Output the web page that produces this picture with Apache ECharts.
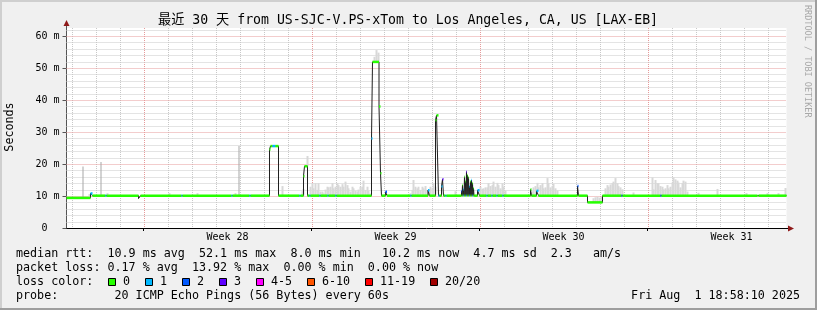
<!DOCTYPE html>
<html><head><meta charset="utf-8">
<script src="https://cdn.jsdelivr.net/npm/echarts@6/dist/echarts.min.js"></script>
<style>html,body{margin:0;padding:0;background:#f0f0f0}#c{width:817px;height:310px}</style>
</head><body><div id="c"></div>
<script>
// ---------- data ----------
const titleText = '最近 30 天 from US-SJC-V.PS-xTom to Los Angeles, CA, US [LAX-EB]';
const spanHours = 720;               // 30 days, x axis = hours since graph start
const firstMidnight = 5;             // hours from graph start to first local midnight
const weekLabels = ['Week 28', 'Week 29', 'Week 30', 'Week 31'];
const weekStartHours = [77, 245, 413, 581];
const weekLabelHours = [161, 329, 497, 665];
const yTicks = [0, 10, 20, 30, 40, 50, 60];

// median rtt (ms) step series: start hour, value, loss class (index into lossColors, -1 = none)
const medHour = [
  0, 24, 26, 39, 40, 72, 74, 115, 116, 165, 166, 183, 184,
  203, 204, 206, 209, 212, 233, 234, 237, 238, 241, 243, 244, 253, 254, 261, 262, 269, 270,
  305, 306, 312.5, 314, 315, 319, 320.5, 344, 345, 361.5, 363,
  369, 370, 372, 373, 375, 376, 377, 379, 380,
  395, 395.5, 396, 396.5, 397, 397.5, 398, 398.5, 399, 399.5, 400, 400.5, 401, 401.5,
  402, 402.5, 403, 403.5, 404, 404.5, 405, 405.5, 406, 406.5, 407, 407.5, 408,
  411, 413, 420, 421, 425, 426, 430, 431, 436, 437,
  464, 465, 470, 472, 511, 512, 521, 536, 555, 556, 594, 595, 691, 692];
const medMs = [
  9.4, 10.8, 10.1, 10.1, 10.1, 9.2, 10.1, 10.1, 10.1, 10.1, 10.1, 10.1, 10.1,
  24.5, 25.6, 25.6, 25.6, 10.1, 10.1, 10.1, 16.2, 19.3, 10.1, 10.1, 10.1, 10.1, 10.1, 10.1, 10.1, 10.1, 10.1,
  28.0, 51.9, 38.0, 17.1, 10.1, 11.3, 10.1, 10.1, 10.1, 11.8, 10.1,
  33.7, 35.2, 10.1, 10.1, 13.0, 15.2, 10.1, 10.1, 10.1,
  11.5, 10.1, 13.4, 10.1, 12.0, 10.1, 16.0, 10.1, 14.5, 10.1, 17.6, 10.1, 16.5, 10.1,
  15.8, 10.1, 13.0, 10.1, 14.5, 10.1, 15.0, 10.1, 14.0, 10.1, 12.4, 10.1, 10.1,
  11.8, 10.1, 10.1, 10.1, 10.1, 10.1, 10.1, 10.1, 10.1, 10.1,
  12.0, 10.1, 11.6, 10.1, 13.1, 10.1, 8.0, 10.1, 10.1, 10.1, 10.1, 10.1, 10.6, 10.1];
const medLoss = [
  0, 1, 0, 1, 0, -1, 0, 1, 0, 1, 0, 1, 0,
  0, 0, 1, 0, 0, 1, 0, 0, 0, 0, 1, 0, 1, 0, 1, 0, 1, 0,
  1, 0, 0, 0, 0, 2, 0, 1, 0, 1, 0,
  0, 0, 1, 0, 1, 3, 0, 1, 0,
  2, 0, 0, 1, 1, 0, 0, 0, 0, 1, 3, 0, 0, 0,
  0, 1, 1, 0, 0, 0, 1, 1, 0, 0, 0, 0, 0,
  1, 0, 1, 0, 1, 0, 1, 0, 1, 0,
  0, 0, 1, 0, 2, 0, 0, 0, 2, 0, 2, 0, -1, 0];

// smoke (max ping) tops, ms
const smokeHour = [22,40,102,130,168,215,235,236,240,
  243,245,246,248,250,251,253,255,256,258,260,261,263,265,266,268,270,271,273,275,276,278,280,281,283,285,286,288,290,291,293,295,296,298,300,301,303,
  307,309,311,
  343,345,346,348,350,351,353,355,356,358,360,361,363,365,366,368,388,
  411,413,415,416,418,420,421,423,425,426,428,430,431,433,435,436,438,
  465,466,468,470,471,473,475,476,478,480,481,483,485,486,488,490,
  526,528,530,532,534,538,540,541,543,545,546,548,550,551,553,555,566,
  585,586,588,590,591,593,595,596,598,600,601,603,605,606,608,610,611,613,615,616,618,620,
  631,650,679,700,711,718];
const smokeTop = [10.6,10.9,10.9,10.9,10.9,13.1,11.5,12.2,22.5,
  12.9,14.0,12.4,14.0,11.9,14.0,11.4,11.4,10.8,12.0,12.9,12.7,12.9,14.0,12.4,12.9,14.0,13.4,12.9,13.7,12.9,14.5,13.4,12.4,11.4,12.9,12.4,11.6,11.4,12.0,12.9,12.9,14.8,11.9,12.9,11.6,10.8,
  53.5,55.6,54.8,
  10.8,11.9,15.0,12.9,12.4,12.9,11.9,12.9,12.4,13.1,11.9,11.4,12.9,12.4,14.0,12.9,11.5,
  11.7,12.9,12.2,12.4,12.7,12.7,14.0,13.1,13.4,14.5,12.9,14.1,13.4,12.4,14.0,12.9,11.7,
  11.4,12.7,13.1,14.1,12.7,13.4,14.0,12.4,12.7,15.6,14.0,12.7,13.1,13.8,12.4,11.7,
  9.3,9.6,9.8,9.5,9.7,12.4,13.4,12.9,13.6,14.0,14.5,15.6,14.0,13.1,12.7,12.1,11.1,
  15.8,12.1,15.0,14.0,14.0,13.1,12.9,12.1,12.4,13.4,12.4,12.9,14.2,15.8,15.2,14.8,14.2,12.7,14.0,14.8,14.5,11.4,
  11.0,12.2,10.9,10.9,10.9,12.5];
// single outlier pings (darker smoke)
const spikeHour = [16, 34, 172];
const spikeTop  = [19.2, 20.6, 25.6];

const lossLabels = ['0', '1', '2', '3', '4-5', '6-10', '11-19', '20/20'];
const lossColors = ['#26ff00', '#00b8ff', '#0059ff', '#5e00ff', '#ff00ff', '#ff5500', '#ff0000', '#a10000'];

const statRows = [
  'median rtt:  10.9 ms avg  52.1 ms max  8.0 ms min   10.2 ms now  4.7 ms sd  2.3   am/s',
  'packet loss: 0.17 % avg  13.92 % max  0.00 % min  0.00 % now',
  'loss color:',
  'probe:        20 ICMP Echo Pings (56 Bytes) every 60s'
];
const dateText = 'Fri Aug  1 18:58:10 2025';

// ---------- build ----------
const MONO = '"DejaVu Sans Mono", "Noto Sans CJK SC", monospace';
const LFONT = '11.7px ' + MONO;
function medAt(h) { let v = medMs[0]; for (let i = 0; i < medHour.length; i++) if (medHour[i] <= h) v = medMs[i]; return v; }

const medLine = medHour.map((h, i) => [h, medMs[i]]).concat([[spanHours, medMs[medMs.length - 1]]]);
const bandData = medHour.map((h, i) => [h, i + 1 < medHour.length ? medHour[i + 1] : spanHours, medMs[i], medLoss[i]]).filter(d => d[3] >= 0);
const smokeData = smokeHour.map((h, i) => [h, medAt(h), smokeTop[i], 2]);
const spikeData = spikeHour.map((h, i) => [h, medAt(h), spikeTop[i], 1]);

const vGrid = [];
for (let h = firstMidnight; h < spanHours; h += 24) vGrid.push([h, 0]);
const hGrid = [];
for (let v = 2; v <= 62; v += 2) hGrid.push([0, v]);

const MINC = '#c8c8c8', MAJC = '#e69a9a';

function rectItem(params, api) {
  const p0 = api.coord([api.value(0), api.value(2)]);
  const p1 = api.coord([api.value(0) + api.value(3), api.value(1)]);
  return { type: 'rect', shape: { x: p0[0], y: p0[1], width: p1[0] - p0[0], height: p1[1] - p0[1] }, style: { fill: api.visual('color') } };
}

const chart = echarts.init(document.getElementById('c'), null, { renderer: 'canvas', width: 817, height: 310 });

const graphics = [
  { type: 'rect', shape: { x: 0, y: 0, width: 817, height: 2 }, style: { fill: '#cfcfcf' }, silent: true },
  { type: 'rect', shape: { x: 0, y: 0, width: 2, height: 310 }, style: { fill: '#cfcfcf' }, silent: true },
  { type: 'rect', shape: { x: 0, y: 308, width: 817, height: 2 }, style: { fill: '#9e9e9e' }, silent: true },
  { type: 'rect', shape: { x: 815, y: 0, width: 2, height: 310 }, style: { fill: '#9e9e9e' }, silent: true },
  { type: 'text', x: 408, y: 21, style: { text: titleText, font: '13.2px ' + MONO, fill: '#000', align: 'center', verticalAlign: 'middle' } },
  { type: 'text', x: 807, y: 5, rotation: -Math.PI / 2, style: { text: 'RRDTOOL / TOBI OETIKER', font: '8.5px ' + MONO, fill: '#a8a8a8', align: 'left', verticalAlign: 'middle' } },
  { type: 'text', x: 10, y: 127, rotation: Math.PI / 2, style: { text: 'Seconds', font: LFONT, fill: '#000', align: 'center', verticalAlign: 'middle' } },
  // axis extensions + arrows
  { type: 'line', shape: { x1: 66.5, y1: 28, x2: 66.5, y2: 25 }, style: { stroke: '#555', lineWidth: 1 } },
  { type: 'polygon', shape: { points: [[63.5, 26], [69.5, 26], [66.5, 20]] }, style: { fill: '#8f1a1a' } },
  { type: 'line', shape: { x1: 786, y1: 228.5, x2: 789, y2: 228.5 }, style: { stroke: '#000', lineWidth: 1 } },
  { type: 'polygon', shape: { points: [[788, 225.5], [788, 231.5], [794, 228.5]] }, style: { fill: '#8f1a1a' } },
  { type: 'text', x: 800, y: 296, style: { text: dateText, font: LFONT, fill: '#000', align: 'right', verticalAlign: 'middle' } }
];
const rowY = [254, 268, 282, 296];
statRows.forEach((t, i) => graphics.push({ type: 'text', x: 16, y: rowY[i], style: { text: t, font: LFONT, fill: '#000', align: 'left', verticalAlign: 'middle' } }));
const boxX = [108.5, 145.5, 182.5, 219.5, 256.5, 307.5, 365.5, 430.5];
lossLabels.forEach((l, i) => {
  graphics.push({ type: 'rect', shape: { x: boxX[i], y: 278.5, width: 7, height: 7 }, style: { fill: lossColors[i], stroke: '#000', lineWidth: 1 } });
  graphics.push({ type: 'text', x: boxX[i] + 14.5, y: 282, style: { text: l, font: LFONT, fill: '#000', align: 'left', verticalAlign: 'middle' } });
});

chart.setOption({
  animation: false,
  backgroundColor: '#f0f0f0',
  grid: { left: 66.5, right: 30.5, top: 28, bottom: 82, show: true, backgroundColor: '#ffffff', borderWidth: 0, containLabel: false, outerBoundsMode: 'none' },
  xAxis: {
    type: 'value', min: 0, max: spanHours,
    axisLine: { show: true, onZero: false, lineStyle: { color: '#000', width: 1 } },
    axisTick: { show: true, customValues: weekStartHours, length: 3, lineStyle: { color: '#000' } },
    axisLabel: { show: true, customValues: weekLabelHours, formatter: v => weekLabels[weekLabelHours.indexOf(v)] || '', fontFamily: MONO, fontSize: 10, color: '#000', margin: 4 },
    splitLine: { show: false }
  },
  yAxis: {
    type: 'value', min: 0, max: 62.5, interval: 10,
    axisLine: { show: true, lineStyle: { color: '#555', width: 1 } },
    axisTick: { show: true, customValues: yTicks, length: 4, lineStyle: { color: '#555' } },
    axisLabel: { show: true, customValues: yTicks, formatter: v => v === 0 ? '0  ' : v + ' m', fontFamily: MONO, fontSize: 10, color: '#000', margin: 7 },
    splitLine: { show: false }
  },
  graphic: graphics,
  series: [
    { type: 'custom', name: 'vgrid', silent: true, z: 1, data: vGrid, encode: { x: 0, y: 1 },
      renderItem: (params, api) => { const cs = params.coordSys; const h = api.value(0); const x = Math.round(api.coord([h, 0])[0]) + 0.5;
        const major = weekStartHours.indexOf(h) >= 0;
        return { type: 'line', shape: { x1: x, y1: cs.y, x2: x, y2: cs.y + cs.height }, style: { stroke: major ? MAJC : MINC, lineWidth: 1, lineDash: [1, 1] } }; } },
    { type: 'custom', name: 'hgrid', silent: true, z: 1, data: hGrid, encode: { x: 0, y: 1 },
      renderItem: (params, api) => { const cs = params.coordSys; const v = api.value(1); const y = Math.round(api.coord([0, v])[1]) + 0.5;
        const major = Math.abs(v % 10) < 1e-6;
        return { type: 'line', shape: { x1: cs.x, y1: y, x2: cs.x + cs.width, y2: y }, style: { stroke: major ? MAJC : MINC, lineWidth: 1, lineDash: [1, 1] } }; } },
    { type: 'custom', name: 'smoke', silent: true, z: 2, data: smokeData, encode: { x: 0, y: 2 }, itemStyle: { color: '#d8d8d8' }, renderItem: rectItem },
    { type: 'custom', name: 'outliers', silent: true, z: 2, data: spikeData, encode: { x: 0, y: 2 }, itemStyle: { color: '#a8a8a8' }, renderItem: rectItem },
    { type: 'line', name: 'median', silent: true, z: 3, data: medLine, step: 'end', symbol: 'none', lineStyle: { color: '#202020', width: 1 } },
    { type: 'custom', name: 'loss', silent: true, z: 4, data: bandData, encode: { x: 0, y: 2 },
      renderItem: (params, api) => { const p0 = api.coord([api.value(0), api.value(2)]); const p1 = api.coord([api.value(1), api.value(2)]);
        return { type: 'rect', shape: { x: p0[0], y: p0[1] - 1.25, width: p1[0] - p0[0], height: 2.5 }, style: { fill: lossColors[api.value(3)] } }; } }
  ]
});
</script></body></html>
